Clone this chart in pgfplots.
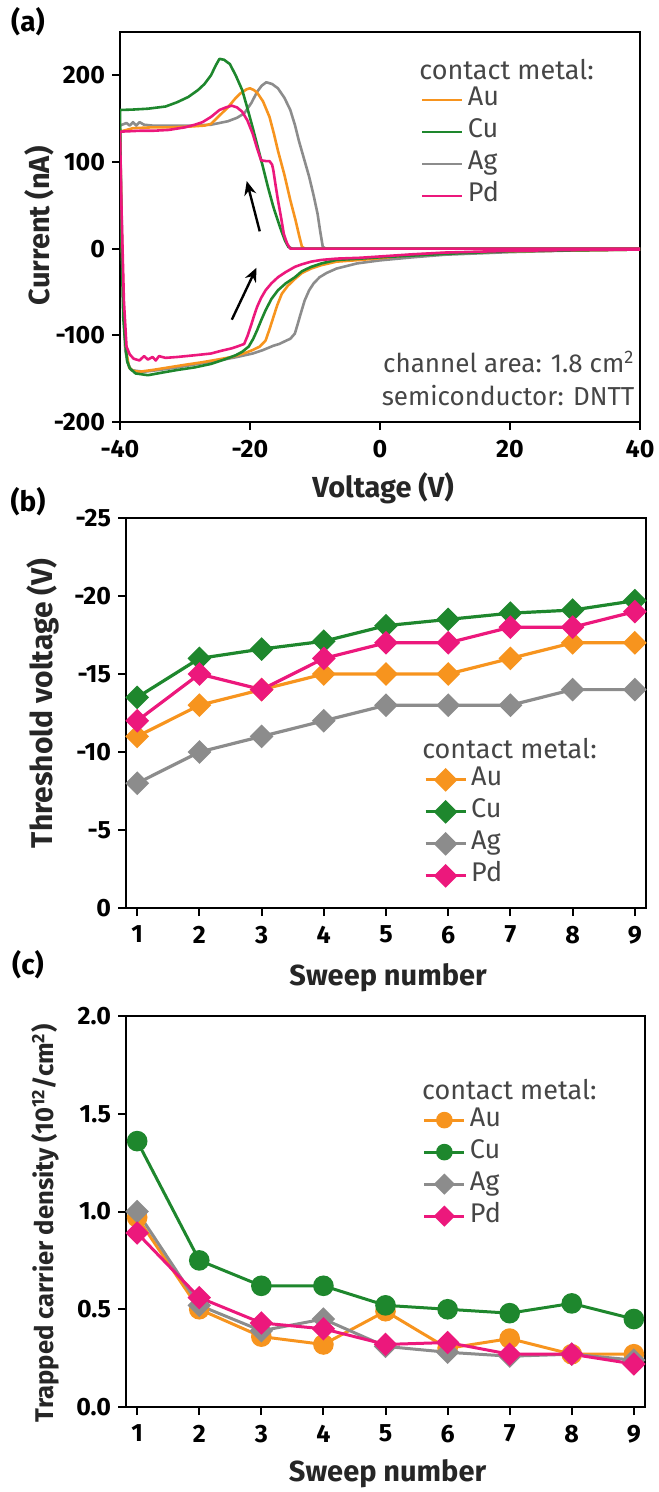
\documentclass[border=0pt]{standalone}
\usepackage{fontspec}
\setmainfont{Fira Sans}
\usepackage{pgfplots}
\pgfplotsset{compat=1.18}
\usetikzlibrary{arrows.meta}
\definecolor{cAu}{RGB}{247,148,30}
\definecolor{cCu}{RGB}{30,135,45}
\definecolor{cAg}{RGB}{140,140,140}
\definecolor{cPd}{RGB}{236,24,124}
\definecolor{txt}{RGB}{70,70,70}

\pgfplotsset{
  myaxis/.style={
    scale only axis,
    axis line style={line width=1pt},
    tick style={line width=1pt, black},
    tick align=outside,
    major tick length=4pt,
    tick pos=left,
    ticklabel style={font=\fontsize{12.5}{14}\selectfont\bfseries},
    xticklabel style={yshift=-1.5pt},
    /pgf/number format/assume math mode=true,
    label style={font=\fontsize{14.5}{16}\selectfont\bfseries, text=black!85},
    legend style={draw=none, fill=none, inner sep=0pt, outer sep=0pt, anchor=north west,
      font=\fontsize{13.5}{15}\selectfont, text=txt, row sep=3pt,
      nodes={inner sep=0pt, text height=9.5pt, text depth=3.5pt},
      /tikz/every odd column/.append style={column sep=2pt}},
    legend cell align=left,
  },
  lineleg/.style={legend image code/.code={\draw[##1] (0pt,0pt) -- (20pt,0pt);}},
  markleg/.style={legend image code/.code={\draw[mark repeat=2,mark phase=2,##1] plot coordinates {(0pt,0pt) (10pt,0pt) (20pt,0pt)};}},
  dia/.style={mark=square*, mark size=3.4pt, mark options={rotate=45}},
  circ/.style={mark=*, mark size=4.4pt},
}

\begin{document}
\begin{tikzpicture}
\useasboundingbox (0,0) rectangle (329pt,-746pt);

\node[font=\fontsize{14}{16}\selectfont\bfseries] at (14pt,-11pt) {(a)};
\node[font=\fontsize{14}{16}\selectfont\bfseries] at (14pt,-251pt) {(b)};
\node[font=\fontsize{14}{16}\selectfont\bfseries] at (14pt,-482.5pt) {(c)};

%%%%%%%%%%%%%%%% (a)
\begin{axis}[myaxis, lineleg,
  at={(60pt,-16pt)}, anchor=north west,
  width=260pt, height=195pt,
  xmin=-40, xmax=40, ymin=-200, ymax=250,
  xtick={-40,-20,0,20,40}, ytick={-200,-100,0,100,200},
  xlabel={Voltage (V)}, ylabel={Current (nA)},
  xlabel style={at={(axis description cs:0.506,-0.169)}, anchor=center},
  ylabel style={at={(axis description cs:-0.156,0.503)}, anchor=center},
  legend style={at={(axis description cs:0.579,0.859)}},
]
\addplot[cAg, line width=1.3pt, line join=round, forget plot] coordinates {
(-40,142) (-39,145) (-38.5,142) (-38,146) (-37.5,142) (-37,146) (-36.3,143) (-35,142) (-32,142) (-29,142) (-26,143) (-24.7,145) (-23.4,147) (-22,151) (-20.9,156) (-19.8,168) (-18.9,181) (-18.2,188) (-17.5,192) (-16.6,190) (-15.7,185) (-14.7,174) (-13.8,160) (-13.1,143) (-12.5,125) (-11.7,104) (-10.9,83) (-10.2,61) (-9.6,40) (-9.2,20) (-8.8,2) (-8.3,0) (40,0)
(40,-1) (30,-2) (20,-4) (10,-7) (5,-10) (0,-13.5) (-3.5,-17) (-6.7,-23) (-8.2,-28) (-9.3,-33) (-10.2,-40) (-10.9,-48) (-11.6,-60) (-12.2,-75) (-12.7,-88) (-13.1,-98) (-13.8,-104) (-14.4,-106) (-15.5,-110) (-16.4,-112) (-18,-117) (-19.6,-121) (-22,-125) (-24.7,-129) (-28,-133) (-31.2,-137) (-34,-140) (-36.3,-142) (-37.5,-141) (-38.3,-140) (-38.8,-132) (-39.2,-117) (-39.5,-60) (-39.7,17) (-39.9,100) (-40,142)};
\addplot[cAu, line width=1.3pt, line join=round, forget plot] coordinates {
(-40,135) (-38,139) (-35,140) (-32,140) (-29,141) (-27,142) (-26,144) (-24.5,155) (-23.4,163) (-22.3,173) (-21.5,179) (-20.5,184) (-20,185) (-19.4,183) (-18.9,180) (-18,170) (-17,152) (-16.3,132) (-15.7,113) (-14.7,85) (-13.8,56) (-13,33) (-12.5,17) (-12,2) (-11.5,0) (40,0)
(40,-1) (30,-2) (20,-3) (10,-5) (5,-7) (0,-11) (-3,-13) (-6.7,-15) (-9,-19) (-10.6,-23) (-12,-28) (-13.1,-35) (-14.2,-43) (-15.1,-52) (-15.8,-65) (-16.4,-79) (-17,-93) (-17.6,-106) (-18.5,-113) (-19.6,-117) (-21,-121) (-22.8,-125) (-25,-128) (-27.3,-131) (-30,-134) (-32.5,-137) (-35,-140) (-37,-142) (-38,-141) (-38.6,-137) (-39,-120) (-39.4,-79) (-39.7,0) (-39.9,94) (-40,135)};
\addplot[cCu, line width=1.3pt, line join=round, forget plot] coordinates {
(-40,160) (-38,160.5) (-35.7,161.5) (-33,164) (-31.2,169) (-29.5,175) (-28,183) (-27,190) (-26,200) (-25.3,211) (-24.7,219) (-24,218) (-23.1,213) (-22.2,200) (-21.2,183) (-20.4,162) (-19.6,140) (-18.8,117) (-18,94) (-17.2,70) (-16.4,48) (-15.7,32) (-15.2,21) (-14.6,9) (-14.1,2) (-13.5,0) (40,0)
(40,-1) (30,-2) (20,-3) (10,-6) (5,-8) (0,-10) (-3,-11.5) (-6.7,-13) (-9,-17) (-10.6,-21) (-12,-26) (-13.1,-33) (-14.5,-40) (-15.7,-48) (-16.7,-58) (-17.6,-71) (-18.3,-83) (-18.9,-94) (-19.5,-104) (-20.2,-113) (-21.2,-119) (-22.2,-123) (-24,-128) (-26,-133) (-28.5,-137) (-31.2,-140) (-33.5,-143) (-35.7,-146) (-37.6,-144) (-38.5,-138) (-38.9,-130) (-39.3,-100) (-39.5,-79) (-39.8,20) (-40,160)};
\addplot[cPd, line width=1.3pt, line join=round, forget plot] coordinates {
(-40,135) (-37,136) (-35,136) (-32.5,137) (-30,140) (-28.5,143) (-27.3,146) (-26,152) (-24.7,160) (-23.7,163) (-22.8,165) (-22,163) (-21.2,158) (-20.4,148) (-19.6,133) (-19,118) (-18.3,102) (-17.5,101) (-17,101) (-16.6,97) (-16.4,90) (-16.1,75) (-15.7,56) (-15.2,35) (-14.8,17) (-14.3,6) (-13.8,0) (40,0)
(40,-1) (30,-1.5) (20,-2.5) (10,-4.5) (5,-6.5) (0,-9) (-3,-10.5) (-6.7,-11.5) (-9,-13) (-10.6,-15) (-12,-18) (-13.1,-21) (-14.5,-27) (-15.7,-33) (-16.7,-40) (-17.6,-48) (-18.3,-57) (-18.9,-67) (-19.4,-78) (-19.9,-90) (-20.4,-101) (-20.9,-110) (-22,-113) (-22.8,-115) (-24.5,-118) (-26,-121) (-28.5,-123) (-31.2,-125) (-33,-126) (-34,-124) (-34.5,-129) (-35,-125) (-35.7,-128) (-36.3,-124) (-37,-129) (-37.9,-127) (-38.5,-122) (-39,-113) (-39.4,-60) (-39.8,56) (-40,135)};
\addlegendimage{cAu, line width=1.4pt}\addlegendentry{Au}
\addlegendimage{cCu, line width=1.4pt}\addlegendentry{Cu}
\addlegendimage{cAg, line width=1.4pt}\addlegendentry{Ag}
\addlegendimage{cPd, line width=1.4pt}\addlegendentry{Pd}
\draw[line width=1.2pt, -{Stealth[length=7pt,width=6pt]}] (axis cs:-18.5,20) -- (axis cs:-20.5,78);
\draw[line width=1.2pt, -{Stealth[length=7pt,width=6pt]}] (axis cs:-22.8,-82) -- (axis cs:-19,-22);
\node[anchor=west, inner sep=0pt, font=\fontsize{13.5}{15}\selectfont, text=txt] at (axis description cs:0.575,0.903) {contact metal:};
\node[anchor=east, inner sep=0pt, font=\fontsize{13}{15}\selectfont, text=txt] at (axis description cs:0.99,0.154) {channel area: 1.8 cm\textsuperscript{2}};
\node[anchor=east, inner sep=0pt, font=\fontsize{13}{15}\selectfont, text=txt] at (axis description cs:0.99,0.069) {semiconductor: DNTT};
\end{axis}

%%%%%%%%%%%%%%%% (b)
\begin{axis}[myaxis, markleg,
  at={(63pt,-259pt)}, anchor=north west,
  width=260pt, height=195pt,
  xmin=0.82, xmax=9.18, ymin=-25, ymax=0, y dir=reverse,
  xtick={1,...,9}, ytick={-25,-20,-15,-10,-5,0},
  xlabel={Sweep number}, ylabel={Threshold voltage (V)},
  ylabel style={font=\fontsize{15}{17}\selectfont\bfseries},
  xlabel style={at={(axis description cs:0.504,-0.179)}, anchor=center},
  ylabel style={at={(axis description cs:-0.16,0.525)}, anchor=center},
  legend style={at={(axis description cs:0.573,0.362)}},
]
\addplot[cAg, line width=1.6pt, dia, forget plot] coordinates {(1,-8) (2,-10) (3,-11) (4,-12) (5,-13) (6,-13) (7,-13) (8,-14) (9,-14)};
\addplot[cAu, line width=1.6pt, dia, forget plot] coordinates {(1,-11) (2,-13) (3,-14) (4,-15) (5,-15) (6,-15) (7,-16) (8,-17) (9,-17)};
\addplot[cCu, line width=1.6pt, dia, forget plot] coordinates {(1,-13.5) (2,-16) (3,-16.6) (4,-17.1) (5,-18.1) (6,-18.5) (7,-18.9) (8,-19.1) (9,-19.7)};
\addplot[cPd, line width=1.6pt, dia, forget plot] coordinates {(1,-12) (2,-15) (3,-14) (4,-16) (5,-17) (6,-17) (7,-18) (8,-18) (9,-19)};
\addlegendimage{cAu, line width=1.6pt, dia}\addlegendentry{Au}
\addlegendimage{cCu, line width=1.6pt, dia}\addlegendentry{Cu}
\addlegendimage{cAg, line width=1.6pt, dia}\addlegendentry{Ag}
\addlegendimage{cPd, line width=1.6pt, dia}\addlegendentry{Pd}
\node[anchor=west, inner sep=0pt, font=\fontsize{13.5}{15}\selectfont, text=txt] at (axis description cs:0.569,0.41) {contact metal:};
\end{axis}

%%%%%%%%%%%%%%%% (c)
\begin{axis}[myaxis, markleg,
  at={(63pt,-508pt)}, anchor=north west,
  width=259.5pt, height=195.5pt,
  xmin=0.82, xmax=9.18, ymin=0, ymax=2,
  xtick={1,...,9}, ytick={0,0.5,1,1.5,2},
  yticklabel style={/pgf/number format/.cd, fixed, fixed zerofill, precision=1},
  xlabel={Sweep number}, ylabel={Trapped carrier density (10\textsuperscript{12}/cm\textsuperscript{2})},
  ylabel style={font=\fontsize{12.8}{15}\selectfont\bfseries},
  xlabel style={at={(axis description cs:0.504,-0.171)}, anchor=center},
  ylabel style={at={(axis description cs:-0.156,0.47)}, anchor=center},
  legend style={at={(axis description cs:0.572,0.767)}},
]
\addplot[cAu, line width=1.5pt, circ, forget plot] coordinates {(1,0.97) (2,0.50) (3,0.36) (4,0.32) (5,0.49) (6,0.30) (7,0.35) (8,0.27) (9,0.27)};
\addplot[cAg, line width=1.5pt, dia, forget plot] coordinates {(1,1.0) (2,0.52) (3,0.39) (4,0.45) (5,0.31) (6,0.28) (7,0.26) (8,0.27) (9,0.24)};
\addplot[cCu, line width=1.5pt, circ, forget plot] coordinates {(1,1.36) (2,0.75) (3,0.62) (4,0.62) (5,0.52) (6,0.50) (7,0.48) (8,0.53) (9,0.45)};
\addplot[cPd, line width=1.5pt, dia, forget plot] coordinates {(1,0.89) (2,0.56) (3,0.43) (4,0.40) (5,0.32) (6,0.33) (7,0.27) (8,0.27) (9,0.22)};
\addlegendimage{cAu, line width=1.5pt, circ, mark size=3.4pt}\addlegendentry{Au}
\addlegendimage{cCu, line width=1.5pt, circ, mark size=3.4pt}\addlegendentry{Cu}
\addlegendimage{cAg, line width=1.5pt, dia, mark size=3pt}\addlegendentry{Ag}
\addlegendimage{cPd, line width=1.5pt, dia, mark size=3pt}\addlegendentry{Pd}
\node[anchor=west, inner sep=0pt, font=\fontsize{13.5}{15}\selectfont, text=txt] at (axis description cs:0.570,0.813) {contact metal:};
\end{axis}
\end{tikzpicture}
\end{document}
